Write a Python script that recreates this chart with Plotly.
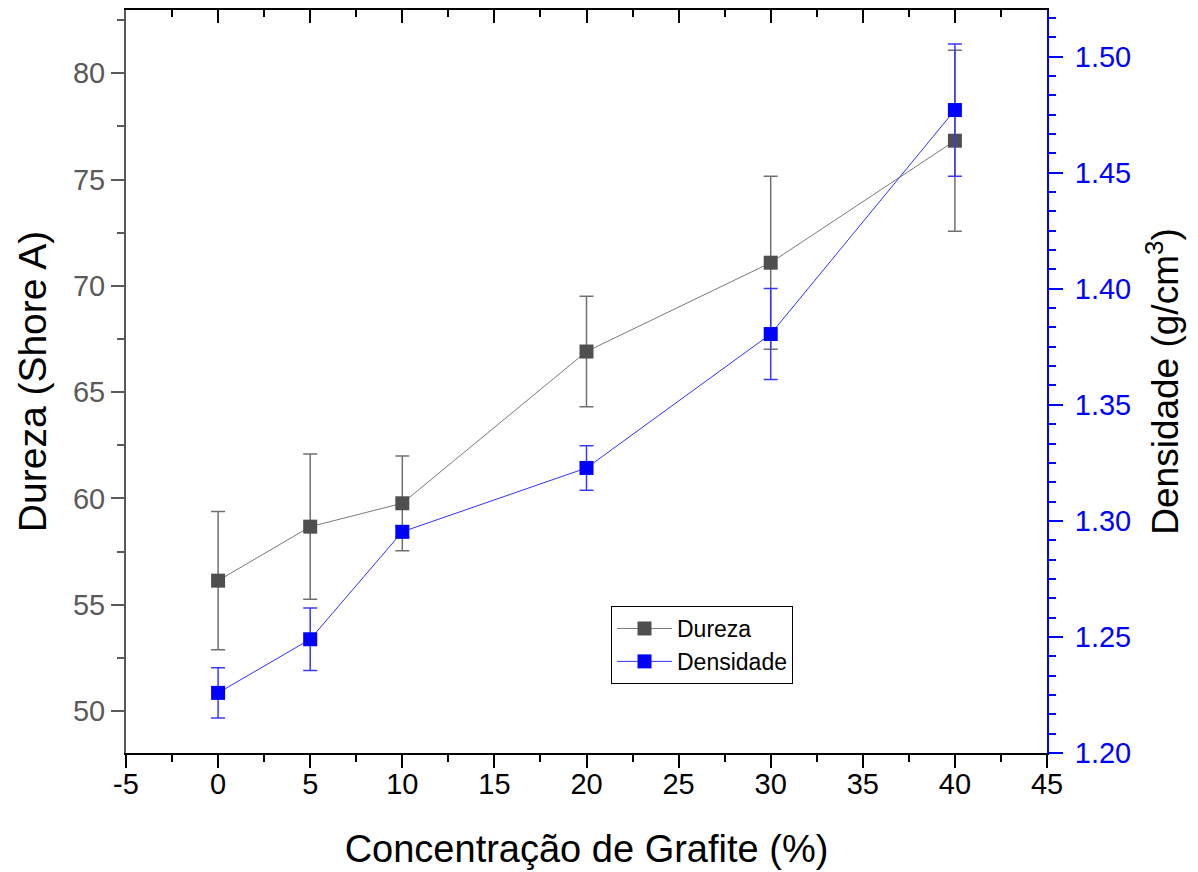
import plotly.graph_objects as go

# ---- data ----
concentracao = [0, 5, 10, 20, 30, 40]
dureza = [56.13, 58.67, 59.77, 66.91, 71.09, 76.83]
dureza_err = [3.25, 3.42, 2.23, 2.60, 4.07, 4.26]
densidade = [1.2259, 1.2490, 1.2953, 1.3228, 1.3805, 1.4770]
densidade_err = [0.0108, 0.0135, 0.0025, 0.0096, 0.0196, 0.0285]

x_ticks = [-5, 0, 5, 10, 15, 20, 25, 30, 35, 40, 45]
y_ticks = [50, 55, 60, 65, 70, 75, 80]
y2_ticks = [1.20, 1.25, 1.30, 1.35, 1.40, 1.45, 1.50]

FONT = "Liberation Sans, Arial, sans-serif"
GREY_AX = "#5a5a5a"
BLUE = "#0000ff"

fig = go.Figure()

fig.add_trace(go.Scatter(
    x=concentracao, y=dureza, name="Dureza", mode="lines+markers",
    line=dict(color="#7a7a7a", width=1),
    marker=dict(symbol="square", size=14, color="#4f4f4f", line=dict(width=0)),
    error_y=dict(type="data", array=dureza_err, visible=True,
                 color="#707070", thickness=1.5, width=7),
    xaxis="x", yaxis="y",
))

fig.add_trace(go.Scatter(
    x=concentracao, y=densidade, name="Densidade", mode="lines+markers",
    line=dict(color="#3030ff", width=1),
    marker=dict(symbol="square", size=14, color=BLUE, line=dict(width=0)),
    error_y=dict(type="data", array=densidade_err, visible=True,
                 color="#3a3aff", thickness=1.5, width=7),
    xaxis="x", yaxis="y2",
))

# invisible helper trace so the top (mirror) axis is drawn
fig.add_trace(go.Scatter(
    x=concentracao, y=dureza, mode="markers", marker=dict(opacity=0),
    hoverinfo="skip", showlegend=False, xaxis="x2", yaxis="y",
))

fig.update_layout(
    width=1198, height=872,
    margin=dict(l=126, r=151, t=10, b=119),
    paper_bgcolor="white", plot_bgcolor="white",
    font=dict(family=FONT, color="black"),
    showlegend=True,
    legend=dict(
        x=0.5266, y=0.1978, xanchor="left", yanchor="top",
        bordercolor="black", borderwidth=1, bgcolor="white",
        font=dict(size=23, family=FONT, color="black"),
        tracegroupgap=0, itemwidth=55,
    ),
    xaxis=dict(
        range=[-5, 45], tickmode="array", tickvals=x_ticks,
        ticktext=[str(v) for v in x_ticks],
        ticks="outside", ticklen=13, tickwidth=2, tickcolor="black",
        showline=True, linecolor="black", linewidth=2,
        showgrid=False, zeroline=False, ticklabelstandoff=-9,
        tickfont=dict(size=29, family=FONT, color="black"),
        minor=dict(dtick=2.5, tick0=0, ticks="outside", ticklen=7,
                   tickwidth=2, tickcolor="black", showgrid=False),
        title=dict(text="Concentração de Grafite (%)",
                   font=dict(size=38, family=FONT, color="black"), standoff=37),
    ),
    xaxis2=dict(
        range=[-5, 45], overlaying="x", side="top", anchor="y",
        tickmode="array", tickvals=x_ticks, showticklabels=False,
        ticks="inside", ticklen=13, tickwidth=2, tickcolor="black",
        showline=True, linecolor="black", linewidth=2,
        showgrid=False, zeroline=False,
        minor=dict(dtick=2.5, tick0=0, ticks="inside", ticklen=7,
                   tickwidth=2, tickcolor="black", showgrid=False),
    ),
    yaxis=dict(
        range=[48.02, 82.98], tickmode="array", tickvals=y_ticks,
        ticktext=[str(v) for v in y_ticks],
        ticks="outside", ticklen=13, tickwidth=2, tickcolor=GREY_AX,
        showline=True, linecolor=GREY_AX, linewidth=2,
        showgrid=False, zeroline=False,
        tickfont=dict(size=29, family=FONT, color=GREY_AX),
        minor=dict(dtick=2.5, tick0=0, ticks="outside", ticklen=7,
                   tickwidth=2, tickcolor=GREY_AX, showgrid=False),
        title=dict(text="Dureza (Shore A)",
                   font=dict(size=39, family=FONT, color="black"), standoff=14),
    ),
    yaxis2=dict(
        range=[1.20, 1.5201], overlaying="y", side="right", anchor="x",
        tickmode="array", tickvals=y2_ticks,
        ticktext=["%.2f" % v for v in y2_ticks],
        ticks="outside", ticklen=14, tickwidth=2, tickcolor=BLUE,
        showline=True, linecolor=BLUE, linewidth=2,
        showgrid=False, zeroline=False, ticklabelstandoff=6,
        tickfont=dict(size=29, family=FONT, color=BLUE),
        minor=dict(dtick=0.05 / 6, tick0=1.2, ticks="outside", ticklen=7,
                   tickwidth=2, tickcolor=BLUE, showgrid=False),
        title=dict(text="Densidade (g/cm<sup>3</sup>)",
                   font=dict(size=37, family=FONT, color="black"), standoff=22),
    ),
)

fig.write_html("out.html")
